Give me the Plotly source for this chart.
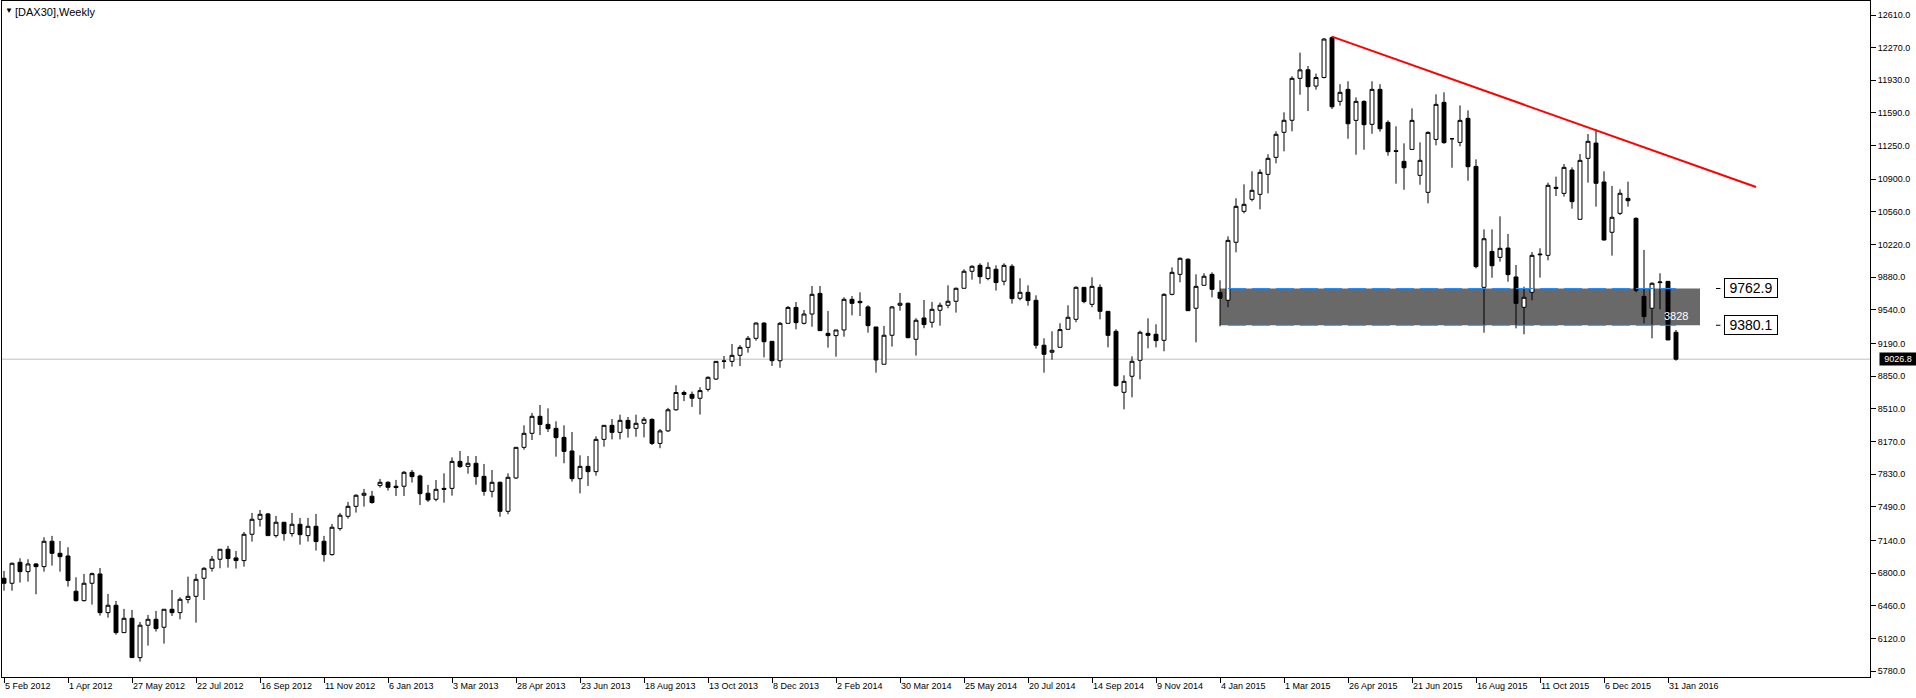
import plotly.graph_objects as go
import pandas as pd

# ---------------- data (weekly DAX30 bars, first bar = week of 5 Feb 2012) ----------------
start_week = "2012-02-05"

opens = [6746, 6694, 6912, 6815, 6895, 6867, 7131, 7006, 6978, 6611,
         6513, 6694, 6791, 6388, 6465, 6180, 6329, 5920, 6257, 6319,
         6236, 6423, 6388, 6524, 6558, 6746, 6850, 6944, 7048, 6958,
         6930, 7204, 7360, 7416, 7190, 7329, 7211, 7308, 7190, 7287,
         7131, 6992, 7263, 7391, 7495, 7610, 7600, 7711, 7745, 7704,
         7704, 7849, 7811, 7631, 7568, 7682, 7682, 7963, 7911, 7943,
         7807, 7651, 7745, 7443, 7790, 8109, 8255, 8432, 8348, 8307,
         8213, 8071, 7783, 7911, 7856, 8192, 8338, 8265, 8390, 8307,
         8359, 8400, 8150, 8280, 8500, 8680, 8660, 8620, 8713, 8820,
         9004, 9004, 9067, 9150, 9244, 9403, 9213, 9011, 9400, 9566,
         9400, 9497, 9712, 9296, 9272, 9331, 9650, 9629, 9571, 9362,
         8974, 9276, 9588, 9609, 9234, 9456, 9411, 9536, 9588, 9630,
         9765, 9942, 10004, 9866, 9963, 9838, 9994, 9661, 9723, 9640,
         9172, 9099, 9151, 9338, 9442, 9775, 9598, 9775, 9525, 9317,
         8682, 8849, 9015, 9296, 9286, 9223, 9702, 9910, 10067, 9557,
         9796, 9910, 9723, 9640, 10244, 10566, 10691, 10743, 10951, 11128,
         11389, 11514, 11951, 12040, 11870, 11960, 12374, 11711, 11836, 11513,
         11711, 11472, 11836, 11492, 11197, 11086, 11211, 10941, 10764, 11315,
         11701, 11322, 11284, 11534, 11034, 9775, 10149, 10087, 10184, 9883,
         9567, 9723, 10122, 10108, 10816, 10753, 10996, 10483, 11118, 11277,
         10872, 10348, 10545, 10701, 10493, 9681, 9557, 9824, 9837, 9307]

highs = [6822, 6909, 6954, 6944, 6902, 7173, 7187, 7134, 7069, 6756,
         6791, 6805, 6853, 6583, 6510, 6427, 6416, 6291, 6364, 6406,
         6423, 6624, 6548, 6763, 6791, 6860, 6978, 7048, 7083, 7030,
         7228, 7426, 7457, 7426, 7395, 7329, 7426, 7374, 7374, 7416,
         7187, 7312, 7426, 7541, 7620, 7676, 7655, 7780, 7756, 7770,
         7863, 7874, 7825, 7718, 7769, 7838, 8005, 8071, 8019, 8019,
         7936, 7873, 7752, 7838, 8109, 8338, 8467, 8550, 8515, 8380,
         8338, 8269, 8026, 8019, 8224, 8338, 8404, 8449, 8425, 8449,
         8425, 8411, 8300, 8520, 8755, 8700, 8690, 8734, 8848, 9004,
         9060, 9185, 9174, 9268, 9410, 9410, 9213, 9414, 9580, 9622,
         9539, 9789, 9789, 9528, 9331, 9671, 9684, 9723, 9588, 9362,
         9373, 9581, 9716, 9616, 9453, 9643, 9623, 9616, 9796, 9772,
         9963, 10004, 10025, 10036, 10004, 10025, 10015, 9869, 9796, 9692,
         9244, 9317, 9401, 9588, 9786, 9775, 9879, 9806, 9525, 9338,
         8859, 9057, 9324, 9452, 9390, 9713, 9983, 10087, 10077, 9910,
         9921, 9931, 9848, 10306, 10702, 10847, 10983, 11003, 11160, 11399,
         11597, 11972, 12219, 12080, 12000, 12370, 12390, 11890, 11920, 11753,
         11721, 11920, 11890, 11513, 11451, 11274, 11638, 11284, 11399, 11784,
         11805, 11325, 11669, 11617, 11107, 10378, 10378, 10514, 10330, 10007,
         9782, 10143, 10181, 10865, 10927, 11059, 11024, 11163, 11371, 11420,
         10983, 10830, 10795, 10875, 10504, 10164, 9827, 9921, 9837, 9331]

lows = [6617, 6617, 6701, 6711, 6579, 6815, 6878, 6815, 6659, 6503,
        6503, 6472, 6357, 6336, 6159, 6180, 5920, 5878, 6045, 6191,
        6066, 6354, 6319, 6486, 6284, 6520, 6815, 6850, 6857, 6847,
        6867, 7128, 7284, 7190, 7169, 7138, 7180, 7096, 7128, 7034,
        6919, 6982, 7242, 7367, 7430, 7492, 7523, 7690, 7659, 7603,
        7603, 7742, 7509, 7541, 7547, 7533, 7606, 7897, 7835, 7720,
        7606, 7589, 7387, 7412, 7780, 8085, 8185, 8237, 8269, 8012,
        7943, 7752, 7630, 7707, 7814, 8116, 8192, 8192, 8210, 8220,
        8213, 8133, 8100, 8270, 8490, 8590, 8530, 8450, 8690, 8810,
        8928, 8949, 8956, 9095, 9219, 9046, 8956, 8938, 9400, 9337,
        9389, 9365, 9324, 9147, 9053, 9261, 9483, 9476, 9303, 8887,
        8974, 9158, 9532, 9244, 9064, 9349, 9355, 9376, 9557, 9512,
        9765, 9855, 9813, 9848, 9741, 9796, 9605, 9640, 9584, 9137,
        8887, 9022, 9151, 9338, 9411, 9609, 9567, 9442, 9150, 8741,
        8505, 8630, 8817, 9140, 9150, 9109, 9692, 9827, 9532, 9202,
        9796, 9671, 9369, 9567, 10139, 10545, 10670, 10587, 10754, 11066,
        11191, 11399, 11780, 11610, 11833, 11950, 11631, 11666, 11322, 11156,
        11208, 11374, 11395, 11145, 10854, 10791, 11211, 10843, 10649, 11253,
        11270, 11020, 11243, 10885, 9972, 9303, 9875, 10042, 9834, 9348,
        9286, 9640, 9876, 10056, 10726, 10719, 10594, 10483, 10865, 10615,
        10261, 10105, 10528, 10615, 9723, 9400, 9244, 9546, 9227, 9012]

closes = [6694, 6902, 6815, 6895, 6867, 7131, 7006, 6971, 6722, 6513,
          6694, 6794, 6388, 6465, 6180, 6329, 5920, 6257, 6319, 6222,
          6423, 6388, 6527, 6558, 6735, 6850, 6944, 7048, 6951, 6930,
          7204, 7360, 7412, 7190, 7329, 7211, 7308, 7200, 7287, 7128,
          6992, 7277, 7402, 7495, 7610, 7631, 7534, 7745, 7693, 7690,
          7849, 7804, 7627, 7561, 7672, 7672, 7963, 7908, 7943, 7804,
          7651, 7745, 7443, 7797, 8109, 8255, 8432, 8348, 8303, 8210,
          8067, 7783, 7911, 7856, 8192, 8338, 8265, 8390, 8307, 8359,
          8401, 8150, 8280, 8500, 8680, 8660, 8620, 8700, 8838, 9004,
          9008, 9067, 9150, 9244, 9403, 9209, 9011, 9400, 9566, 9407,
          9497, 9702, 9324, 9272, 9331, 9650, 9608, 9615, 9376, 9019,
          9276, 9571, 9609, 9251, 9432, 9387, 9546, 9588, 9630, 9765,
          9942, 9994, 9886, 9983, 9824, 10004, 9657, 9723, 9637, 9172,
          9078, 9119, 9335, 9463, 9775, 9626, 9785, 9525, 9275, 8751,
          8796, 9005, 9307, 9275, 9220, 9702, 9931, 10077, 9532, 9785,
          9890, 9754, 9661, 10264, 10618, 10639, 10785, 10972, 11118, 11368,
          11514, 11951, 12039, 11864, 11960, 12360, 11655, 11805, 11478, 11711,
          11468, 11836, 11426, 11187, 11190, 11020, 11513, 11097, 11388, 11680,
          11281, 11322, 11513, 11031, 9990, 10281, 10000, 10181, 9907, 9608,
          9671, 10108, 10115, 10837, 10806, 11024, 10667, 11097, 11295, 10858,
          10268, 10504, 10754, 10677, 9744, 9470, 9817, 9830, 9227, 9026.8]

# price-axis labels and date-axis labels as printed on the chart
price_ticks = [12610, 12270, 11930, 11590, 11250, 10900, 10560, 10220, 9880, 9540,
               9190, 8850, 8510, 8170, 7830, 7490, 7140, 6800, 6460, 6120, 5780]
date_ticks = ["5 Feb 2012", "1 Apr 2012", "27 May 2012", "22 Jul 2012", "16 Sep 2012",
              "11 Nov 2012", "6 Jan 2013", "3 Mar 2013", "28 Apr 2013", "23 Jun 2013",
              "18 Aug 2013", "13 Oct 2013", "8 Dec 2013", "2 Feb 2014", "30 Mar 2014",
              "25 May 2014", "20 Jul 2014", "14 Sep 2014", "9 Nov 2014", "4 Jan 2015",
              "1 Mar 2015", "26 Apr 2015", "21 Jun 2015", "16 Aug 2015", "11 Oct 2015",
              "6 Dec 2015", "31 Jan 2016"]

# drawn objects (in chart coordinates)
zone_low, zone_high = 9380.1, 9762.9
zone_weeks = ("2015-01-04", "2016-02-28")        # rectangle time span
level_weeks = ("2015-01-11", "2016-02-07")       # dashed level lines time span
zone_label = "3828"
trend_weeks = ["2015-04-12", "2016-04-17"]
trend_prices = [12385, 10820]
last_price = 9026.8
symbol_title = "[DAX30],Weekly"

# ---------------- figure ----------------
weeks = pd.date_range(start_week, periods=len(opens), freq="7D")
tick_dates = [pd.to_datetime(t, format="%d %b %Y") for t in date_ticks]
wk = pd.Timedelta(days=7)
t0 = pd.Timestamp(start_week)

FONT = "Liberation Sans, Arial, sans-serif"

fig = go.Figure()

fig.add_trace(go.Candlestick(
    x=weeks, open=opens, high=highs, low=lows, close=closes,
    increasing=dict(line=dict(color="black", width=1), fillcolor="white"),
    decreasing=dict(line=dict(color="black", width=1), fillcolor="black"),
    whiskerwidth=0, showlegend=False, hoverinfo="skip",
))

fig.add_trace(go.Scatter(
    x=pd.to_datetime(trend_weeks), y=trend_prices, mode="lines",
    line=dict(color="#FF0000", width=2), showlegend=False, hoverinfo="skip",
))

shapes = [
    dict(type="rect", xref="x", yref="y", x0=zone_weeks[0], x1=zone_weeks[1],
         y0=zone_low, y1=zone_high, fillcolor="#696969", line=dict(width=0), layer="below"),
    dict(type="line", xref="paper", yref="y", x0=0, x1=1, y0=last_price, y1=last_price,
         line=dict(color="#C0C0C0", width=1), layer="below"),
]
for lvl in (zone_high, zone_low):
    shapes.append(dict(type="line", xref="x", yref="y", x0=level_weeks[0], x1=level_weeks[1],
                       y0=lvl, y1=lvl, line=dict(color="#1E90FF", width=1, dash="18px,6px")))
    # small pointer before the price label box
    shapes.append(dict(type="line", xref="x", yref="y", x0=t0 + wk * 214.0,
                       x1=t0 + wk * 214.55, y0=lvl, y1=lvl,
                       line=dict(color="black", width=1)))

annotations = [
    dict(xref="paper", yref="paper", x=0.0, y=1.0, xanchor="left", yanchor="top",
         text="▼", showarrow=False, xshift=1, yshift=-3,
         font=dict(family=FONT, size=8, color="black")),
    dict(xref="paper", yref="paper", x=0.0, y=1.0, xanchor="left", yanchor="top",
         text=symbol_title, showarrow=False, xshift=11, yshift=-3,
         font=dict(family=FONT, size=11, color="black")),
    dict(xref="x", yref="y", x=weeks[-1], y=(zone_low + zone_high) / 2 - 90, text=zone_label,
         showarrow=False, font=dict(family=FONT, size=11, color="white")),
    dict(xref="paper", yref="y", x=1.0, y=last_price, xanchor="left", yanchor="middle",
         text=f"{last_price:.1f}", showarrow=False, xshift=9, bgcolor="black",
         width=36, height=12, borderpad=0,
         font=dict(family=FONT, size=9, color="white")),
]
for lvl in (zone_high, zone_low):
    annotations.append(dict(xref="x", yref="y", x=t0 + wk * 215.0, y=lvl,
                            xanchor="left", yanchor="middle", text=f"{lvl:.1f}",
                            showarrow=False, bgcolor="white", bordercolor="black",
                            borderwidth=1, borderpad=0, width=52, height=18,
                            font=dict(family=FONT, size=14, color="black")))

fig.update_layout(
    width=1916, height=698,
    margin=dict(l=2, r=46, t=1, b=21, autoexpand=False),
    paper_bgcolor="white", plot_bgcolor="white",
    shapes=shapes, annotations=annotations,
    showlegend=False,
    font=dict(family=FONT, size=9, color="black"),
    xaxis=dict(
        type="date", range=[t0 - wk * 0.25, t0 + wk * 233.25],
        rangeslider=dict(visible=False), automargin=False,
        tickvals=tick_dates, ticktext=date_ticks,
        ticks="outside", ticklen=5, tickcolor="black", tickwidth=1,
        ticklabelposition="outside right",
        showline=True, linecolor="black", linewidth=1, mirror=True,
        showgrid=False, zeroline=False,
        tickfont=dict(family=FONT, size=9, color="black"),
    ),
    yaxis=dict(
        side="right", range=[5718, 12756], automargin=False,
        tickvals=price_ticks, ticktext=[f"{v:.1f}" for v in price_ticks],
        ticks="outside", ticklen=5, tickcolor="black", tickwidth=1,
        showline=True, linecolor="black", linewidth=1, mirror=True,
        showgrid=False, zeroline=False,
        tickfont=dict(family=FONT, size=9, color="black"),
    ),
)

fig.write_html(
    "out.html",
    config={"displayModeBar": False},
    post_script="document.body.style.margin='0';document.body.style.overflow='hidden';",
)
